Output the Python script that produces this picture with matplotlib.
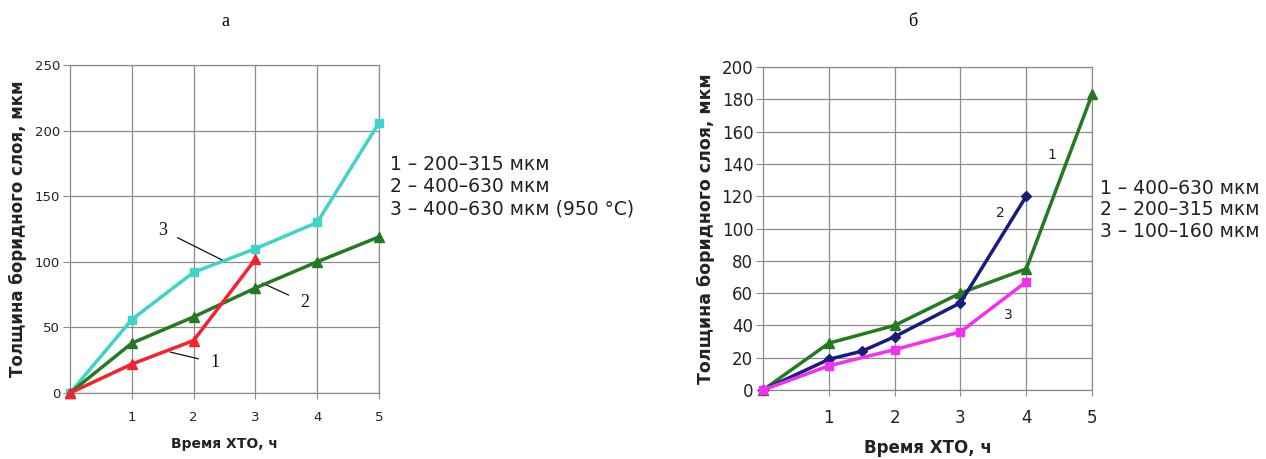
import matplotlib
matplotlib.use("Agg")
import matplotlib.pyplot as plt

plt.rcParams['font.family'] = ['DejaVu Sans']

# Panel а
a_x1 = [0, 1, 2, 3]
a_y1 = [0, 22, 40, 102]
a_x2 = [0, 1, 2, 3, 4, 5]
a_y2 = [0, 38, 58, 80, 100, 119]
a_x3 = [0, 1, 2, 3, 4, 5]
a_y3 = [0, 56, 92, 110, 130, 206]
a_legend = ["1 – 200–315 мкм", "2 – 400–630 мкм", "3 – 400–630 мкм (950 °C)"]

# Panel б
b_x1 = [0, 1, 2, 3, 4, 5]
b_y1 = [0, 29, 40, 60, 75, 183]
b_x2 = [0, 1, 1.5, 2, 3, 4]
b_y2 = [0, 19, 24, 33, 54, 120]
b_x3 = [0, 1, 2, 3, 4]
b_y3 = [0, 15, 25, 36, 67]
b_legend = ["1 – 400–630 мкм", "2 – 200–315 мкм", "3 – 100–160 мкм"]

x_ticks = [1, 2, 3, 4, 5]
ylabel = "Толщина боридного слоя, мкм"
xlabel = "Время ХТО, ч"

RED = "#f5222e"
GREEN = "#237a23"
CYAN = "#3fd3c9"
NAVY = "#1b1b7d"
MAGENTA = "#f52ff0"
GRID = "#8c8c8c"
TXT = "#222222"

fig = plt.figure(figsize=(12.66, 4.59), dpi=100)


def style(ax, ymax, ystep, lab_size, xpad):
    ax.set_xlim(0, 5)
    ax.set_ylim(0, ymax)
    ax.set_xticks(x_ticks)
    ax.set_yticks(range(0, ymax + 1, ystep))
    ax.grid(True, color=GRID, linewidth=0.9)
    for s in ax.spines.values():
        s.set_color(GRID)
        s.set_linewidth(0.9)
    ax.tick_params(axis='x', length=4, width=0.8, color=GRID, pad=xpad,
                   labelsize=lab_size, labelcolor=TXT)
    ax.tick_params(axis='y', length=5, width=0.8, color=GRID, pad=2,
                   labelsize=lab_size, labelcolor=TXT)
    ax.set_axisbelow(True)


# ---- Panel а
ax1 = fig.add_axes([0.0553, 0.1438, 0.2441, 0.7146])
style(ax1, 250, 50, 9.5, 9)
ax1.plot(a_x3, a_y3, color=CYAN, lw=2.5, marker='s', ms=6, clip_on=False, zorder=3)
ax1.plot(a_x2, a_y2, color=GREEN, lw=2.5, marker='^', ms=7, clip_on=False, zorder=4)
ax1.plot(a_x1, a_y1, color=RED, lw=2.5, marker='^', ms=7, clip_on=False, zorder=5)
ax1.set_ylabel(ylabel, fontsize=12, fontweight='bold', color=TXT, labelpad=6)
ax1.set_xlabel(xlabel, fontsize=10, fontweight='bold', color=TXT, labelpad=9)
fig.text(225 / 1266, 1 - 22 / 459, "а", family='Liberation Serif', fontsize=13,
         ha='center', va='center')

ann = dict(fontsize=13, family='Liberation Serif', color="#111111")
ax1.annotate("3", xy=(2.46, 101.4), xytext=(1.50, 124), ha='center', va='center',
             arrowprops=dict(arrowstyle='-', color='#111111', lw=0.9, shrinkA=6, shrinkB=0), **ann)
ax1.annotate("2", xy=(3.11, 83.8), xytext=(3.80, 69), ha='center', va='center',
             arrowprops=dict(arrowstyle='-', color='#111111', lw=0.9, shrinkA=7, shrinkB=0), **ann)
ax1.annotate("1", xy=(1.62, 31.2), xytext=(2.35, 23), ha='center', va='center',
             arrowprops=dict(arrowstyle='-', color='#111111', lw=0.9, shrinkA=7, shrinkB=0), **ann)

fig.text(390 / 1266, 1 - 187 / 459, "\n".join(a_legend), fontsize=13.5, va='center',
         ha='left', linespacing=1.2, color=TXT)

# ---- Panel б
ax2 = fig.add_axes([0.6027, 0.1503, 0.2599, 0.7037])
style(ax2, 200, 20, 12, 10)
ax2.plot(b_x1, b_y1, color=GREEN, lw=2.5, marker='^', ms=7, clip_on=False, zorder=3)
ax2.plot(b_x2, b_y2, color=NAVY, lw=2.5, marker='D', ms=5, clip_on=False, zorder=4)
ax2.plot(b_x3, b_y3, color=MAGENTA, lw=2.5, marker='s', ms=6, clip_on=False, zorder=5)
ax2.set_ylabel(ylabel, fontsize=12.5, fontweight='bold', color=TXT, labelpad=5)
ax2.set_xlabel(xlabel, fontsize=12, fontweight='bold', color=TXT, labelpad=8)
fig.text(913 / 1266, 1 - 22 / 459, "б", family='Liberation Serif', fontsize=13,
         ha='center', va='center')

ann2 = dict(fontsize=10, color=TXT, ha='center', va='center')
ax2.text(4.39, 145.5, "1", **ann2)
ax2.text(3.60, 109.6, "2", **ann2)
ax2.text(3.72, 46.4, "3", **ann2)

fig.text(1100 / 1266, 1 - 210 / 459, "\n".join(b_legend), fontsize=13.5, va='center',
         ha='left', linespacing=1.2, color=TXT)

fig.savefig("out.png", dpi=100)
